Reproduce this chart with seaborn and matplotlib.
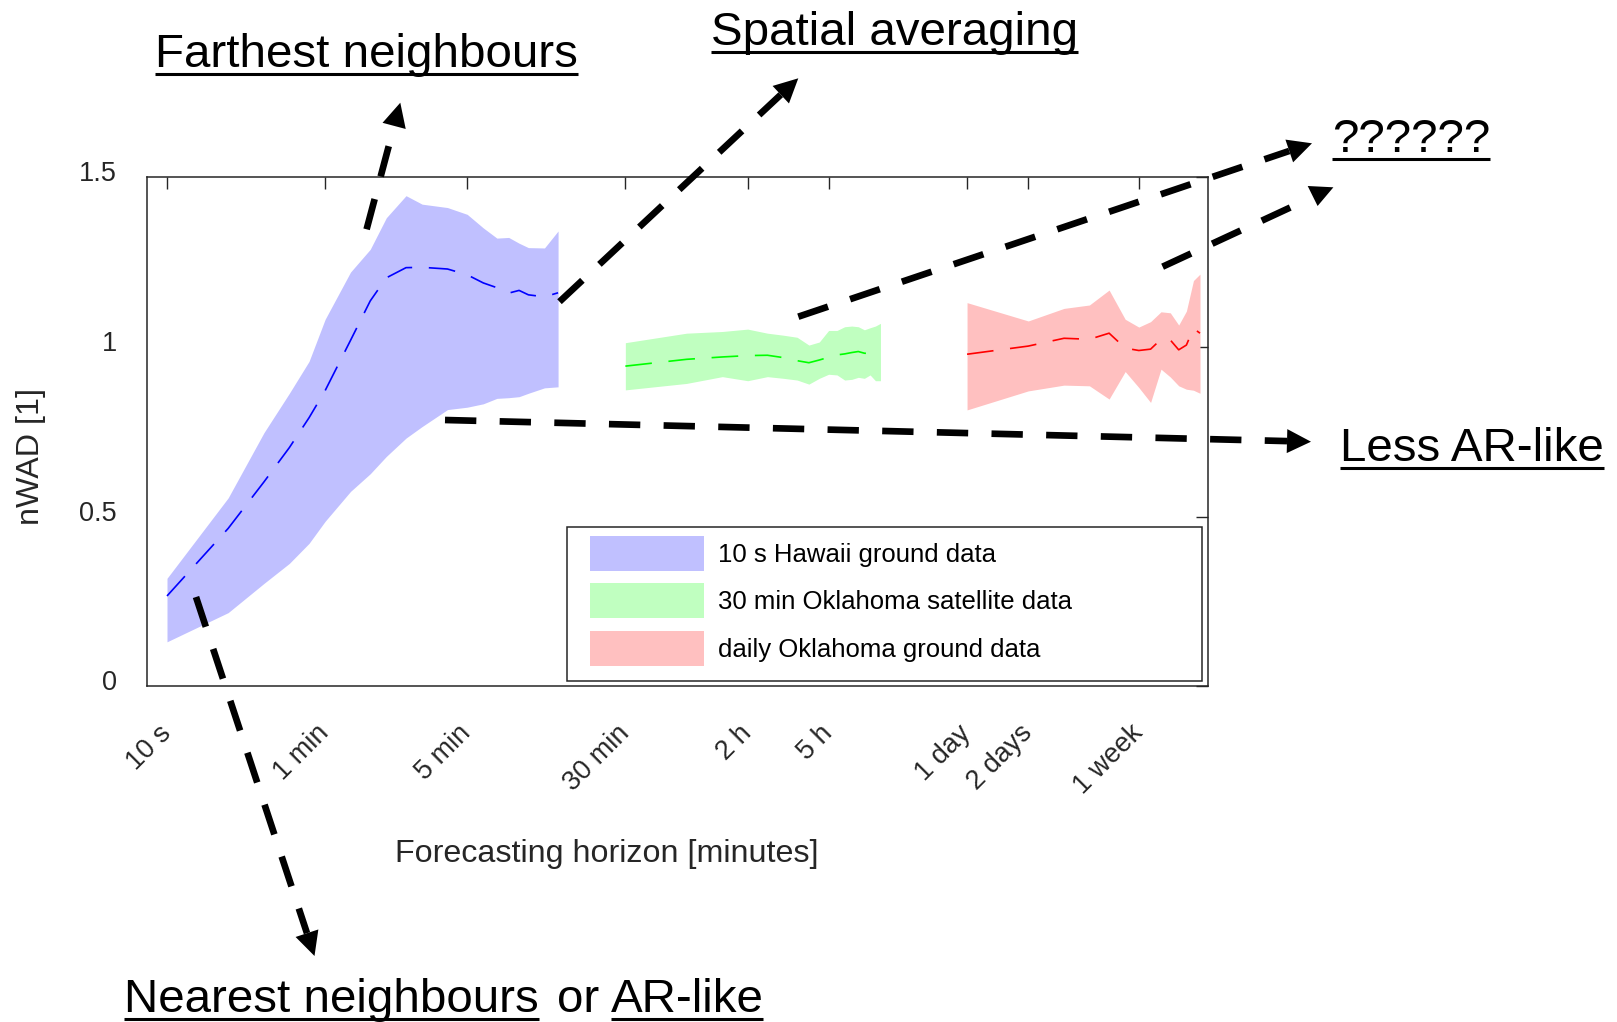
import numpy as np
import pandas as pd
import matplotlib
matplotlib.use("Agg")
import matplotlib.pyplot as plt
import seaborn as sns
from matplotlib.lines import Line2D
from matplotlib.patches import Polygon, Rectangle
from matplotlib.transforms import ScaledTranslation
from matplotlib.ticker import NullLocator

# ---- 10 s Hawaii ground data (horizon in seconds) ----
hawaii_horizon_s = [10, 20, 30, 40, 50, 60, 80, 100, 120, 150, 180, 240,
                    300, 360, 420, 480, 540, 600, 720, 840]
hawaii_mean = [0.266, 0.465, 0.602, 0.703, 0.791, 0.871, 1.019, 1.135, 1.203, 1.233,
               1.234, 1.229, 1.212, 1.188, 1.174, 1.158, 1.166, 1.153, 1.147, 1.159]
hawaii_low = [0.131, 0.217, 0.303, 0.362, 0.421, 0.486, 0.574, 0.626, 0.677, 0.731,
              0.765, 0.815, 0.822, 0.832, 0.848, 0.850, 0.853, 0.863, 0.879, 0.882]
hawaii_high = [0.318, 0.555, 0.747, 0.863, 0.957, 1.081, 1.220, 1.287, 1.380, 1.445,
               1.420, 1.410, 1.390, 1.350, 1.320, 1.322, 1.305, 1.292, 1.291, 1.341]

# ---- 30 min Oklahoma satellite data (horizon in minutes) ----
sat_horizon_min = [30, 60, 90, 120, 150, 180, 210, 240, 270, 300,
                   330, 360, 390, 420, 450, 480, 510, 540]
sat_mean = [0.943, 0.963, 0.970, 0.974, 0.975, 0.968, 0.959, 0.953, 0.961, 0.969,
            0.976, 0.979, 0.983, 0.986, 0.981, 0.980, 0.985, 0.994]
sat_low = [0.873, 0.892, 0.912, 0.900, 0.912, 0.907, 0.902, 0.890, 0.907, 0.919,
           0.917, 0.902, 0.904, 0.910, 0.907, 0.917, 0.900, 0.900]
sat_high = [1.012, 1.040, 1.045, 1.052, 1.040, 1.034, 1.028, 1.005, 1.014, 1.048,
            1.048, 1.059, 1.061, 1.059, 1.050, 1.056, 1.061, 1.069]

# ---- daily Oklahoma ground data (horizon in days) ----
daily_horizon_d = [1, 2, 3, 4, 5, 6, 7, 8, 9, 10, 11, 12, 13, 14]
daily_mean = [0.978, 1.002, 1.025, 1.022, 1.040, 0.996, 0.989, 0.993, 1.022, 1.020,
              0.991, 1.005, 1.054, 1.040]
daily_low = [0.814, 0.870, 0.887, 0.885, 0.846, 0.927, 0.880, 0.836, 0.934, 0.911,
             0.885, 0.875, 0.872, 0.863]
daily_high = [1.130, 1.076, 1.113, 1.123, 1.167, 1.081, 1.058, 1.074, 1.103, 1.100,
              1.064, 1.105, 1.195, 1.214]

series_names = ["10 s Hawaii ground data", "30 min Oklahoma satellite data",
                "daily Oklahoma ground data"]
fill_colors = ["#C0C0FF", "#C0FFC0", "#FFC0C0"]
line_colors = ["#0000FF", "#00FF00", "#FF0000"]

tick_minutes = [10 / 60, 1, 5, 30, 120, 300, 1440, 2880, 10080]
tick_labels = ["10 s", "1 min", "5 min", "30 min", "2 h", "5 h", "1 day", "2 days", "1 week"]
y_ticks = [0, 0.5, 1, 1.5]
y_tick_labels = ["0", "0.5", "1", "1.5"]

frames = [
    pd.DataFrame({"minutes": np.array(hawaii_horizon_s) / 60.0, "mean": hawaii_mean,
                  "low": hawaii_low, "high": hawaii_high, "series": series_names[0]}),
    pd.DataFrame({"minutes": np.array(sat_horizon_min, dtype=float), "mean": sat_mean,
                  "low": sat_low, "high": sat_high, "series": series_names[1]}),
    pd.DataFrame({"minutes": np.array(daily_horizon_d) * 1440.0, "mean": daily_mean,
                  "low": daily_low, "high": daily_high, "series": series_names[2]}),
]
data = pd.concat(frames, ignore_index=True)

sns.set_theme(style="white")
plt.rcParams["font.family"] = ["Liberation Sans", "DejaVu Sans"]

W, H = 1617, 1022
fig = plt.figure(figsize=(W / 100, H / 100), dpi=100)
fig.patch.set_facecolor("white")
AX_L, AX_R, AX_T, AX_B = 147.3, 1207.7, 177.0, 686.3
ax = fig.add_axes([AX_L / W, 1 - AX_B / H, (AX_R - AX_L) / W, (AX_B - AX_T) / H])

AX_COL = "#262626"

for name, fc, lc in zip(series_names, fill_colors, line_colors):
    sub = data[data["series"] == name]
    ax.fill_between(sub["minutes"], sub["low"], sub["high"], color=fc,
                    linewidth=0, label=name, zorder=1)
    sns.lineplot(data=sub, x="minutes", y="mean", color=lc, linewidth=1.2,
                 linestyle=(0, (16, 10)), ax=ax, legend=False, zorder=2)

ax.set_xscale("log")
ax.set_xlim(8 / 60, 22000)
ax.set_ylim(0, 1.5)
ax.set_xticks(tick_minutes)
ax.set_xticklabels(tick_labels, rotation=45, ha="right", va="center",
                   rotation_mode="anchor")
ax.xaxis.set_minor_locator(NullLocator())
ax.set_yticks(y_ticks)
ax.set_yticklabels(y_tick_labels)
ax.tick_params(axis="both", which="major", direction="in", length=8.6, width=1.0,
               color=AX_COL, top=True, right=True, labelsize=19.5, labelcolor=AX_COL)
ax.tick_params(axis="y", pad=22)
ax.tick_params(axis="x", pad=31)
for s in ax.spines.values():
    s.set_visible(True)
    s.set_color(AX_COL)
    s.set_linewidth(1.1)

ax.set_xlabel("Forecasting horizon [minutes]", fontsize=23.2, color=AX_COL, va="center")
ax.xaxis.set_label_coords(0.433, -0.33)
ax.set_ylabel("nWAD [1]", fontsize=23.2, color=AX_COL, va="center")
ax.yaxis.set_label_coords(-0.1097, 0.452)


def ax_xy(x, y):
    """Pixel position measured from the top-left corner -> axes fraction."""
    return (x - AX_L) / (AX_R - AX_L), (AX_B - y) / (AX_B - AX_T)


# legend entries, placed inside a separately drawn box
leg = ax.legend(loc="upper left", bbox_to_anchor=ax_xy(590, 536), borderaxespad=0,
                fontsize=18.5, handlelength=4.44, handleheight=1.72,
                handletextpad=0.54, labelspacing=0.48, borderpad=0, frameon=False)
for t in leg.get_texts():
    t.set_color("black")
bx0, by1 = ax_xy(567, 527)
bx1, by0 = ax_xy(1201.5, 681)
ax.add_patch(Rectangle((bx0, by0), bx1 - bx0, by1 - by0, transform=ax.transAxes,
                       facecolor="white", edgecolor=AX_COL, linewidth=1.1, zorder=4))
leg.set_zorder(5)


def fig_xy(x, y):
    """Pixel position measured from the top-left corner -> figure fraction."""
    return x / W, 1 - y / H


def dashed_arrow(start, tip, head_len=24, head_w=24, head=None):
    p0 = np.array([start[0], H - start[1]], dtype=float)
    p1 = np.array([tip[0], H - tip[1]], dtype=float)
    d = p1 - p0
    u = d / np.hypot(*d)
    n = np.array([-u[1], u[0]])
    base = p1 - u * head_len
    shaft = Line2D([p0[0] / W, base[0] / W], [p0[1] / H, base[1] / H],
                   transform=fig.transFigure, color="black", linewidth=4.8,
                   linestyle=(0, (4.7, 3.5)), dash_capstyle="butt")
    fig.add_artist(shaft)
    if head is None:
        pts = [p1, base + n * head_w / 2, base - n * head_w / 2]
    else:
        pts = [np.array([hx, H - hy]) for hx, hy in head]
    poly = Polygon([(q[0] / W, q[1] / H) for q in pts], closed=True,
                   transform=fig.transFigure, facecolor="black", edgecolor="black",
                   linewidth=0)
    fig.add_artist(poly)


dashed_arrow((366.6, 229.3), (400.3, 102.7))
dashed_arrow((559.5, 301.7), (798.3, 78.3))
dashed_arrow((798.3, 316.7), (1312.0, 143.3))
dashed_arrow((1162.6, 266.7), (1300.0, 203.0), head_len=0.1,
             head=[(1307.7, 186.0), (1333.4, 187.3), (1317.6, 206.0)])
dashed_arrow((445.0, 420.0), (1311.0, 441.7))
dashed_arrow((196.0, 597.0), (314.5, 956.0))

ANN_SIZE = 34.2
labels = [
    ("Farthest neighbours", 155, 67, True),
    ("Spatial averaging", 711, 45, True),
    ("??????", 1332, 152, True),
    ("Less AR-like", 1340, 461, True),
    ("Nearest neighbours", 124, 1012, True),
    ("or", 557, 1012, False),
    ("AR-like", 610.5, 1012, True),
]
texts = []
for s, x, yb, ul in labels:
    fx, fy = fig_xy(x, yb)
    t = fig.text(fx, fy, s, fontsize=ANN_SIZE, color="black", ha="left", va="baseline")
    texts.append((t, yb, ul))

fig.canvas.draw()
renderer = fig.canvas.get_renderer()

for t, yb, ul in texts:
    if not ul:
        continue
    bb = t.get_window_extent(renderer)
    yu = 1 - (yb + 7) / H
    fig.add_artist(Line2D([bb.x0 / W, bb.x1 / W], [yu, yu], transform=fig.transFigure,
                          color="black", linewidth=2.2, solid_capstyle="butt"))

# y tick labels sit slightly above their ticks
for lab in ax.get_yticklabels():
    lab.set_transform(lab.get_transform() + ScaledTranslation(0, 6 / 100, fig.dpi_scale_trans))

fig.savefig("out.png", dpi=100, facecolor="white")
